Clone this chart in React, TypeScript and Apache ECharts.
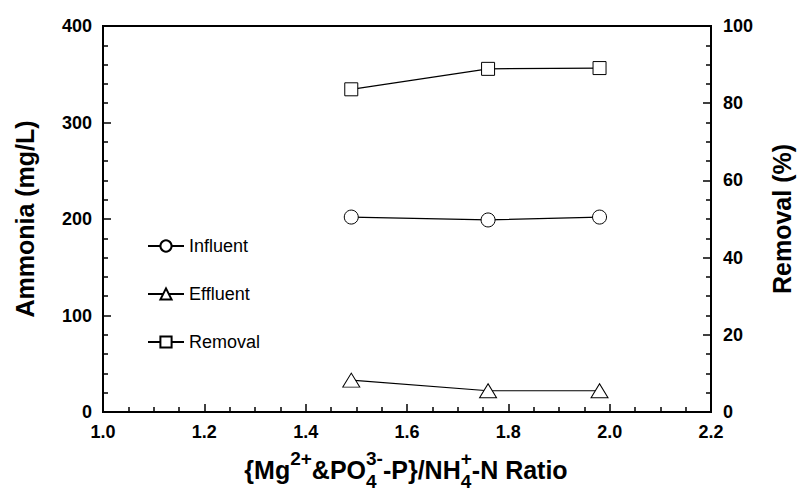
import React, { useEffect, useRef } from "react";
import * as echarts from "echarts";

const ratio = [1.49, 1.76, 1.98];
const influent = [202, 199, 202];
const effluent = [33, 22, 22];
const removal = [83.6, 88.9, 89.1];
const seriesNames = ["Influent", "Effluent", "Removal"];
const leftAxisTitle = "Ammonia (mg/L)";
const rightAxisTitle = "Removal (%)";
// x axis title pieces: main text, superscript, subscript
const xTitleParts = [
  { t: "{Mg" },
  { sup: "2+" },
  { t: "&PO" },
  { sup: "3-", sub: "4" },
  { t: "-P}/NH" },
  { sup: "+", sub: "4" },
  { t: "-N Ratio" },
];

const FONT = '"Liberation Sans", Arial, sans-serif';

export default function App() {
  const ref = useRef<HTMLDivElement>(null);
  useEffect(() => {
    if (!ref.current) return;
    const chart = echarts.init(ref.current, null, { renderer: "svg" });

    const mainSize = 25;
    const smallSize = 19;
    const cv = document.createElement("canvas").getContext("2d")!;
    const measure = (s: string, size: number) => {
      cv.font = `bold ${size}px ${FONT}`;
      return cv.measureText(s).width;
    };
    const widths = xTitleParts.map((p: any) =>
      p.t !== undefined
        ? measure(p.t, mainSize)
        : Math.max(p.sup ? measure(p.sup, smallSize) : 0, p.sub ? measure(p.sub, smallSize) : 0)
    );
    const total = widths.reduce((a, b) => a + b, 0);
    let cx = 406 - total / 2;
    const mainY = 470;
    const supY = 458;
    const subY = 481;
    const titleEls: any[] = [];
    xTitleParts.forEach((p: any, i) => {
      const mk = (text: string, y: number, size: number) => ({
        type: "text",
        x: cx,
        y,
        silent: true,
        style: {
          text,
          fill: "#000",
          fontSize: size,
          fontWeight: "bold",
          fontFamily: FONT,
          textAlign: "left",
          align: "left",
          textVerticalAlign: "middle",
          verticalAlign: "middle",
        },
      });
      if (p.t !== undefined) titleEls.push(mk(p.t, mainY, mainSize));
      if (p.sup) titleEls.push(mk(p.sup, supY, smallSize));
      if (p.sub) titleEls.push(mk(p.sub, subY, smallSize));
      cx += widths[i];
    });

    const markerStyle = { color: "#fff", borderColor: "#000", borderWidth: 1 };
    const lineStyle = { color: "#000", width: 1.2 };
    const tickLabel = { color: "#000", fontSize: 18, fontWeight: "bold" as const, fontFamily: FONT };

    const option: any = {
      animation: false,
      backgroundColor: "#fff",
      textStyle: { fontFamily: FONT },
      grid: {
        left: 103,
        right: 87,
        top: 26,
        bottom: 78,
        show: true,
        borderColor: "#000",
        borderWidth: 2,
        backgroundColor: "transparent",
      },
      legend: {
        orient: "vertical",
        left: 142,
        top: 232,
        itemGap: 30,
        itemWidth: 36,
        itemHeight: 14,
        textStyle: { color: "#000", fontSize: 18, fontFamily: FONT },
        data: seriesNames,
      },
      xAxis: {
        type: "value",
        min: 1.0,
        max: 2.2,
        interval: 0.2,
        axisLine: { show: true, onZero: false, lineStyle: { color: "#000", width: 2 } },
        axisTick: { show: true, inside: true, length: 8, lineStyle: { color: "#000", width: 1.5 } },
        minorTick: { show: true, splitNumber: 4, length: 5, lineStyle: { color: "#000", width: 1.5 } },
        splitLine: { show: false },
        axisLabel: { ...tickLabel, margin: 11, formatter: (v: number) => v.toFixed(1) },
      },
      yAxis: [
        {
          type: "value",
          min: 0,
          max: 400,
          interval: 100,
          name: leftAxisTitle,
          nameLocation: "middle",
          nameRotate: 90,
          nameGap: 66,
          nameTextStyle: { color: "#000", fontSize: 25, fontWeight: "bold", fontFamily: FONT },
          axisLine: { show: true, onZero: false, lineStyle: { color: "#000", width: 2 } },
          axisTick: { show: true, inside: true, length: 8, lineStyle: { color: "#000", width: 1.5 } },
          minorTick: { show: true, splitNumber: 5, length: 5, lineStyle: { color: "#000", width: 1.5 } },
          splitLine: { show: false },
          axisLabel: { ...tickLabel, margin: 11 },
        },
        {
          type: "value",
          min: 0,
          max: 100,
          interval: 20,
          position: "right",
          name: rightAxisTitle,
          nameLocation: "middle",
          nameRotate: 90,
          nameGap: 58,
          nameTextStyle: { color: "#000", fontSize: 25, fontWeight: "bold", fontFamily: FONT },
          axisLine: { show: true, onZero: false, lineStyle: { color: "#000", width: 2 } },
          axisTick: { show: true, inside: true, length: 8, lineStyle: { color: "#000", width: 1.5 } },
          minorTick: { show: true, splitNumber: 4, length: 5, lineStyle: { color: "#000", width: 1.5 } },
          splitLine: { show: false },
          axisLabel: { ...tickLabel, margin: 12 },
        },
      ],
      series: [
        {
          name: seriesNames[0],
          type: "line",
          yAxisIndex: 0,
          data: ratio.map((x, i) => [x, influent[i]]),
          symbol: "circle",
          symbolSize: 14,
          showAllSymbol: true,
          itemStyle: markerStyle,
          lineStyle,
          z: 3,
        },
        {
          name: seriesNames[1],
          type: "line",
          yAxisIndex: 0,
          data: ratio.map((x, i) => [x, effluent[i]]),
          symbol: "triangle",
          symbolSize: [17, 14],
          itemStyle: markerStyle,
          lineStyle,
          z: 3,
        },
        {
          name: seriesNames[2],
          type: "line",
          yAxisIndex: 1,
          data: ratio.map((x, i) => [x, removal[i]]),
          symbol: "rect",
          symbolSize: 13,
          itemStyle: markerStyle,
          lineStyle,
          z: 3,
        },
      ],
      graphic: titleEls,
    };
    chart.setOption(option);
    return () => chart.dispose();
  }, []);
  return (
    <div
      ref={ref}
      style={{ position: "fixed", left: 0, top: 0, width: 802, height: 490, background: "#fff" }}
    />
  );
}
